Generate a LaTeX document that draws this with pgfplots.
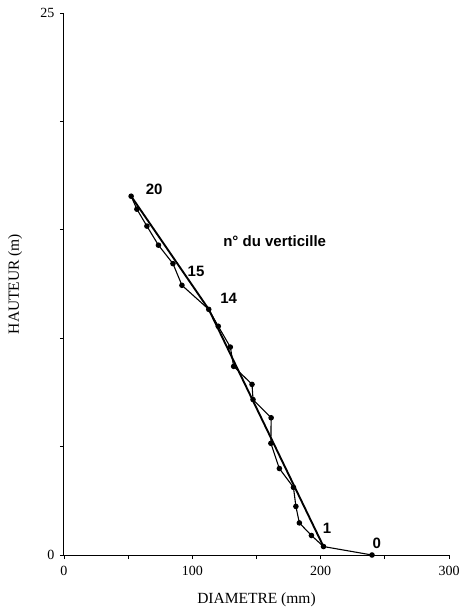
\documentclass[border=0pt]{standalone}
\usepackage{fontspec}
\setmainfont{Liberation Serif}
\newfontfamily\hv{Liberation Sans}
\usepackage{pgfplots}
\pgfplotsset{compat=1.18}

\begin{document}
\begin{tikzpicture}
\begin{axis}[
    anchor=origin, at={(0,0)},
    scale only axis,
    width=385pt, height=542pt,
    xmin=0, xmax=300, ymin=0, ymax=25,
    clip=false,
    axis x line*=bottom, axis y line*=left,
    axis line style={line width=1pt},
    xtick={0,50,...,300}, xticklabels={0,,100,,200,,300},
    ytick={0,5,...,25}, yticklabels={0,,,,,25},
    tick align=outside, major tick length=4pt,
    tick style={line width=0.9pt, black},
    ticklabel style={font=\fontsize{14}{14}\selectfont},
    xticklabel style={yshift=-4pt},
    yticklabel style={xshift=-2pt},
    /pgf/number format/assume math mode=true,
    every axis x label/.style={at={(axis description cs:0.5,0)}, anchor=center, yshift=-45pt},
    every axis y label/.style={at={(axis description cs:-0.127,0.5)}, anchor=center, rotate=90},
    label style={font=\fontsize{15.5}{16}\selectfont},
    xlabel={DIAMETRE (mm)},
    ylabel={HAUTEUR (m)},
]
% verticilles 0 .. 20
\addplot[black, line width=1.1pt, mark=*, mark size=2.2pt] coordinates {
    (240,0) (202.2,0.39) (192.8,0.90) (183.4,1.48) (180.7,2.24)
    (178.8,3.12) (167.8,3.99) (161.2,5.15) (161.4,6.33) (147.3,7.17)
    (146.5,7.87) (132.2,8.70) (129.6,9.59) (120.2,10.55) (112.8,11.33)
    (91.9,12.44) (84.9,13.44) (73.6,14.29) (64.6,15.17) (56.8,15.95)
    (52.3,16.55)
};
% profil lisse
\addplot[black, line width=1.9pt, no marks] coordinates {
    (52.3,16.55) (112.8,11.33) (202.2,0.39)
};
\begin{scope}[every node/.style={font=\hv\bfseries\fontsize{15}{15}\selectfont}]
\node at (axis cs:70.3,16.86) {20};
\node at (axis cs:102.9,13.08) {15};
\node at (axis cs:128.3,11.85) {14};
\node at (axis cs:205,1.23) {1};
\node at (axis cs:243.8,0.56) {0};
\node[anchor=west, inner sep=0pt] at (axis cs:124,14.46) {n° du verticille};
\end{scope}
\end{axis}
\pgfresetboundingbox
\path (-64pt,-55pt) rectangle (405pt,555pt);
\end{tikzpicture}
\end{document}
